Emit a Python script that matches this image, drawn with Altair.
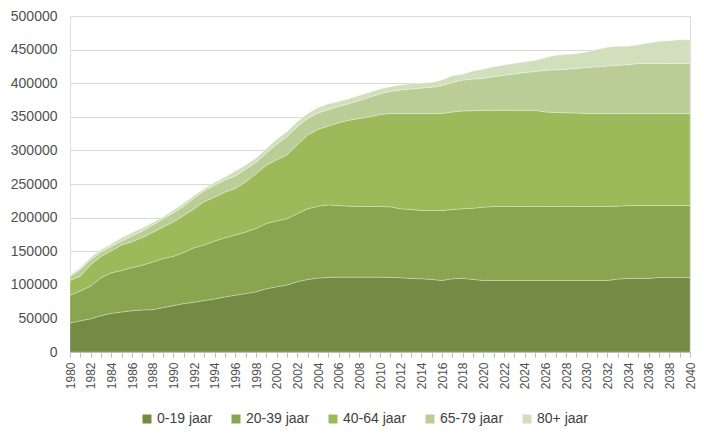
import altair as alt
import pandas as pd

years = list(range(1980, 2041))
groups = ["0-19 jaar", "20-39 jaar", "40-64 jaar", "65-79 jaar", "80+ jaar"]
colors = ["#748b43", "#8aa54f", "#9cba59", "#bbcd97", "#d2dfbd"]

age_0_19 = [43000, 46500, 49400, 54000, 57500, 59500, 61500, 62500, 63000, 66000,
            69000, 72000, 74000, 76500, 79000, 82000, 84500, 87000, 89500, 94000,
            97000, 99700, 104500, 108000, 110000, 111000, 111400, 111400, 111400, 111400,
            111400, 111000, 110500, 109500, 109000, 108000, 106500, 109000, 109500, 108000,
            106500, 106500, 106500, 106500, 106500, 106500, 106500, 106500, 106500, 106500,
            106500, 106500, 106500, 108500, 109500, 109500, 109500, 110900, 110900, 110900,
            110900]
age_20_39 = [41500, 44400, 48800, 56400, 60300, 61700, 64100, 66500, 71000, 73000,
             73200, 76000, 81000, 82800, 86000, 88000, 89500, 91500, 94200, 97100,
             98000, 98700, 101200, 105100, 107000, 107900, 106500, 105600, 105100, 105100,
             105100, 105000, 102600, 102600, 101600, 102600, 104100, 103100, 103600, 106000,
             109000, 110000, 110000, 110000, 110000, 110000, 110000, 110000, 110000, 110000,
             110000, 110000, 110000, 108500, 108400, 108400, 108400, 107000, 107000, 107000,
             107000]
age_40_64 = [22000, 22000, 31800, 31800, 32700, 38100, 38600, 41500, 44000, 47000,
             51300, 55000, 58000, 64500, 65500, 68000, 69400, 74500, 81600, 86900,
             91000, 95300, 102700, 109900, 114300, 117300, 123200, 128000, 130900, 133400,
             136800, 138800, 141700, 142700, 144200, 144200, 144200, 145100, 145600, 145200,
             144100, 143200, 143200, 143200, 143200, 143200, 140700, 140000, 139500, 139000,
             138300, 138300, 138300, 137800, 136900, 136900, 136900, 136900, 136900, 136900,
             136900]
age_65_79 = [5800, 9700, 7300, 6400, 6400, 5900, 8300, 9500, 11000, 12000,
             13500, 14000, 16000, 16100, 17500, 18000, 18600, 19000, 16700, 18100,
             23000, 26900, 26800, 24400, 24400, 24400, 24400, 24400, 26900, 29300,
             30800, 33200, 35200, 36600, 38100, 39100, 41500, 44000, 45900, 46900,
             47900, 50000, 52200, 54100, 56100, 57800, 62100, 63500, 64700, 66500,
             68400, 69600, 70800, 71800, 72800, 74700, 74700, 74700, 74700, 74700,
             74700]
age_80_plus = [2000, 2500, 3400, 3400, 3900, 4900, 4900, 4500, 3500, 3000,
               4000, 4500, 3600, 3100, 4200, 4500, 7300, 6000, 6800, 6400,
               7700, 7300, 7300, 7400, 7900, 8800, 7300, 7400, 7300, 7300,
               7300, 6800, 7300, 7400, 7300, 7300, 8300, 9800, 8800, 12200,
               13200, 14800, 15200, 15700, 16200, 16400, 18500, 21700, 22000, 21700,
               23400, 25700, 27900, 28400, 27400, 27900, 30300, 32800, 33800, 35200,
               35200]

series = [age_0_19, age_20_39, age_40_64, age_65_79, age_80_plus]
rows = []
for gi, (g, vals) in enumerate(zip(groups, series)):
    for y, v in zip(years, vals):
        rows.append({"year": y, "group": g, "value": v, "idx": gi})
df = pd.DataFrame(rows)

chart = alt.Chart(df).mark_area(
    interpolate="linear", stroke="#ffffff", strokeOpacity=0.35, strokeWidth=0.8
).encode(
    x=alt.X("year:Q",
            scale=alt.Scale(domain=[1980, 2040], nice=False, zero=False),
            axis=alt.Axis(values=years, format="d", labelAngle=-90,
                          labelExpr="datum.value % 2 == 0 ? datum.label : ''",
                          labelOverlap=False, labelFlush=False, grid=False,
                          domainColor="#bfbfbf", tickColor="#bfbfbf", tickSize=5,
                          labelFontSize=12, labelColor="#505050", labelPadding=5,
                          title=None, zindex=1)),
    y=alt.Y("value:Q", stack="zero",
            scale=alt.Scale(domain=[0, 500000], nice=False),
            axis=alt.Axis(values=list(range(0, 500001, 50000)), format="d",
                          domain=False, ticks=False, labelFontSize=14,
                          labelColor="#505050", labelPadding=13,
                          gridColor="#d9d9d9", gridWidth=1, title=None)),
    color=alt.Color("group:N",
                    scale=alt.Scale(domain=groups, range=colors),
                    legend=alt.Legend(orient="none", legendX=70, legendY=396,
                                      direction="horizontal", title=None,
                                      symbolType="square", symbolSize=81,
                                      symbolStrokeWidth=0, labelFontSize=14,
                                      labelColor="#404040", labelOffset=3,
                                      columnPadding=16)),
    order=alt.Order("idx:Q", sort="ascending"),
).properties(
    width=620, height=336,
    autosize=alt.AutoSizeParams(type="none"),
    padding={"left": 62, "top": 8, "right": 6, "bottom": 76},
).configure_view(stroke=None).configure(
    font="Liberation Sans", background="#ffffff"
)

chart.save("out.html", embed_options={"renderer": "svg", "actions": False})
